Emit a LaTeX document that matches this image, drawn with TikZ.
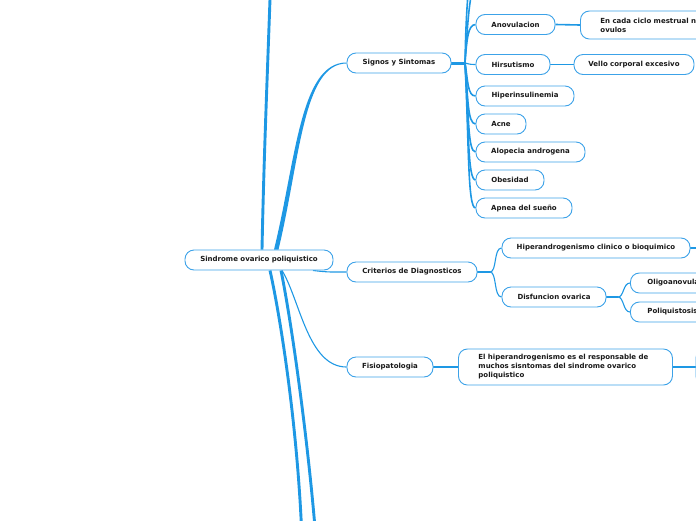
\documentclass[tikz,border=0pt]{standalone}
\usepackage{fontspec}
\setmainfont{DejaVu Sans}
\usetikzlibrary{backgrounds}
\definecolor{lineblue}{RGB}{30,152,228}
\definecolor{nodeblue}{RGB}{60,162,232}
\definecolor{textdark}{RGB}{25,25,25}
\begin{document}
\begin{tikzpicture}[x=1pt,y=-1pt,
  box/.style={draw=nodeblue, line width=0.9pt, fill=white, rounded corners=9pt,
    minimum height=20pt, inner sep=0pt, font=\bfseries\fontsize{7}{9}\selectfont, text=textdark},
  lbox/.style={box, anchor=west, align=left},
  conn/.style={draw=lineblue, line width=1.1pt},
  mconn/.style={draw=lineblue, line width=1.6pt},
  bigconn/.style={draw=lineblue, line width=2.9pt}]
\useasboundingbox (0,0) rectangle (696,520);
\clip (0,0) rectangle (696,520);

% ---------- nodes ----------
\node[box, minimum width=148pt] (root) at (259,260) {Sindrome ovarico poliquistico};
\node[box, minimum width=104pt] (sig) at (399,63) {Signos y Sintomas};
\node[box, minimum width=130pt] (crit) at (412,272) {Criterios de Diagnosticos};
\node[box, minimum width=86pt] (fis) at (390,367) {Fisiopatologia};

\node[box, minimum width=79pt] (anov) at (515.5,24.5) {Anovulacion};
\node[lbox, minimum width=200pt, minimum height=28pt, text width=160pt, inner xsep=20pt] (ciclo) at (580,25) {En cada ciclo mestrual no\\ovulos};
\node[box, minimum width=74pt] (hirs) at (513,64.5) {Hirsutismo};
\node[box, minimum width=120pt] (vello) at (634,64.5) {Vello corporal excesivo};
\node[box, minimum width=98pt] (hins) at (525,96) {Hiperinsulinemia};
\node[box, minimum width=50pt] (acne) at (501,124) {Acne};
\node[box, minimum width=109pt] (alop) at (530.5,152) {Alopecia androgena};
\node[box, minimum width=68pt] (obes) at (510,180) {Obesidad};
\node[box, minimum width=96pt] (apnea) at (524,208) {Apnea del sueño};

\node[box, minimum width=188pt] (hand) at (596,248) {Hiperandrogenismo clinico o bioquimico};
\node[box, minimum width=104pt] (disf) at (554,297) {Disfuncion ovarica};
\node[lbox, minimum width=120pt, text width=86pt, inner xsep=17pt] (olig) at (630,283) {Oligoanovulacion};
\node[lbox, minimum width=120pt, text width=86pt, inner xsep=17pt] (poli) at (630,312) {Poliquistosis ovarica};

\node[lbox, minimum width=214pt, minimum height=36pt, text width=174pt, inner xsep=20pt] (fistext) at (458,367)
  {El hiperandrogenismo es el responsable de\\muchos sisntomas del sindrome ovarico\\poliquistico};
\node[lbox, minimum width=120pt, minimum height=36pt, text width=100pt, inner xsep=10pt] (fisnext) at (695.5,367) {};

% off-canvas end points and branch points
\coordinate (upA) at (271,-30);
\coordinate (downA) at (302,540);
\coordinate (downB) at (316,540);
\coordinate (sigUp1) at (478,-18);
\coordinate (sigUp2) at (478,-48);
\coordinate (handnext) at (710,248);
\coordinate (sigT) at (465,63);
\coordinate (critT) at (490,272);
\coordinate (disfT) at (618,297);

% ---------- connectors (behind nodes) ----------
\begin{pgfonlayer}{background}
\clip (0,0) rectangle (696,520);
% root branches
\path[bigconn] ([xshift=3pt]root.north) .. controls (264,150) and (268,60) .. (upA);
\fill[lineblue] ([xshift=15pt]root.north) .. controls (296,160) and (300,62.4) .. ([yshift=0.5pt]sig.west)
  -- ([yshift=-0.5pt]sig.west) .. controls (303,63.6) and (300,160) .. ([xshift=19.5pt]root.north) -- cycle;
\path[bigconn] ([xshift=11pt]root.south) .. controls (281,320) and (298,430) .. (downA);
\path[bigconn] ([xshift=22pt]root.south) .. controls (293,330) and (309,450) .. (downB);
\path[conn] ([xshift=23pt]root.south) .. controls (300,300) and (308,367) .. (fis.west);
\path[conn] ([xshift=54pt]root.south) .. controls +(16,2) and +(-14,0) .. (crit.west);

% Signos children
\path[bigconn, line width=3pt] (sig.east) -- (sigT);
\path[mconn] (sigT) .. controls +(3,-45) and +(-8,0) .. (sigUp1);
\path[mconn] (sigT) .. controls +(1,-60) and +(-8,0) .. (sigUp2);
\path[mconn] ([yshift=2pt]sigT) .. controls +(2,-20) and +(-8,0) .. (anov.west);
\path[conn] (sigT) .. controls +(4,1) and +(-6,0) .. (hirs.west);
\path[mconn] (sigT) .. controls +(3,18) and +(-8,0) .. (hins.west);
\path[mconn] (sigT) .. controls +(3,34) and +(-8,0) .. (acne.west);
\path[mconn] (sigT) .. controls +(4,50) and +(-8,0) .. (alop.west);
\path[mconn] (sigT) .. controls +(4,65) and +(-8,0) .. (obes.west);
\path[mconn] (sigT) .. controls +(4,80) and +(-8,0) .. (apnea.west);
\path[mconn] (anov.east) -- (ciclo.west);
\path[mconn] (hirs.east) -- (vello.west);

% Criterios children
\path[mconn, line width=2.2pt] (crit.east) -- (critT);
\path[conn] (critT) .. controls +(7,0) and +(-8,0) .. (hand.west);
\path[conn] (critT) .. controls +(7,0) and +(-8,0) .. (disf.west);
\path[conn] (hand.east) -- (handnext);
\path[mconn, line width=2pt] (disf.east) -- (disfT);
\path[conn] (disfT) .. controls +(6,0) and +(-7,0) .. (olig.west);
\path[conn] (disfT) .. controls +(6,0) and +(-7,0) .. (poli.west);

% Fisiopatologia children
\path[mconn] (fis.east) -- (fistext.west);
\path[mconn] (fistext.east) -- (fisnext.west);
\end{pgfonlayer}
\end{tikzpicture}
\end{document}
